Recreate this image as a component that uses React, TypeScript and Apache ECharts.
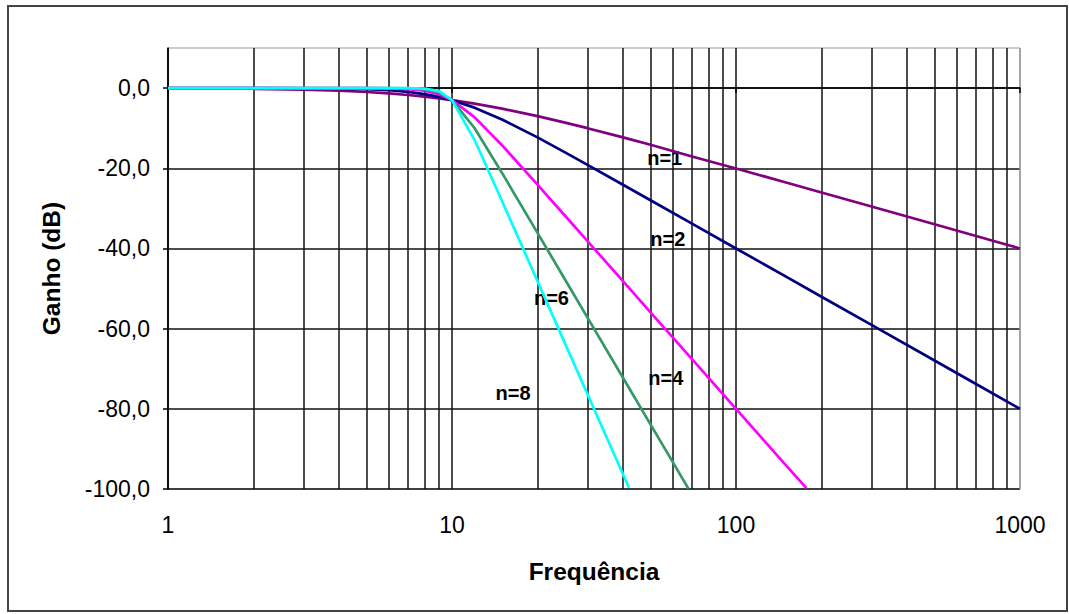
import React, { useEffect, useRef } from "react";
import * as echarts from "echarts";

// Frequencies (Hz, log axis) and gains (dB)
const freqFull = [1, 2, 3, 4, 5, 6, 7, 8, 9, 10, 12, 15, 20, 25, 30, 40, 50, 70, 100, 150, 200, 300, 500, 700, 1000];
const gainN1 = [-0.04, -0.17, -0.37, -0.64, -0.97, -1.34, -1.73, -2.15, -2.58, -3.01, -3.87, -5.12, -6.99, -8.6, -10.0, -12.3, -14.15, -17.08, -20.04, -23.56, -26.03, -29.55, -33.98, -36.9, -40.0];
const gainN2 = [0, -0.01, -0.04, -0.11, -0.26, -0.53, -0.93, -1.49, -2.19, -3.01, -4.88, -7.83, -12.3, -16.03, -19.14, -24.1, -27.97, -33.81, -40.0, -47.04, -52.04, -59.08, -67.96, -73.8, -80.0];

const freqN4 = [1, 2, 3, 4, 5, 6, 7, 8, 9, 10, 12, 15, 20, 25, 30, 40, 50, 70, 100, 150, 177];
const gainN4 = [0, 0, 0, 0, -0.02, -0.07, -0.24, -0.67, -1.56, -3.01, -7.24, -14.25, -24.1, -31.84, -38.17, -48.17, -55.92, -67.61, -80.0, -94.09, -99.8];

const freqN6 = [1, 2, 3, 4, 5, 6, 7, 8, 9, 10, 12, 15, 20, 25, 30, 40, 50, 68];
const gainN6 = [0, 0, 0, 0, 0, -0.01, -0.06, -0.29, -1.08, -3.01, -9.96, -21.16, -36.12, -47.75, -57.25, -72.25, -83.88, -99.9];

const freqN8 = [1, 2, 3, 4, 5, 6, 7, 8, 9, 10, 12, 15, 20, 25, 30, 40, 42];
const gainN8 = [0, 0, 0, 0, 0, 0, -0.01, -0.12, -0.74, -3.01, -12.9, -28.18, -48.16, -63.67, -76.34, -96.33, -99.7];

// Curve labels: [name, frequency, gain]
const curveLabels: [string, number, number][] = [
  ["n=1", 56.1, -17.4],
  ["n=2", 57.5, -37.7],
  ["n=4", 56.6, -72.3],
  ["n=6", 22.4, -52.3],
  ["n=8", 16.4, -76.05],
];

const yTicks = [-100, -80, -60, -40, -20, 0];
const xTicks = [1, 10, 100, 1000];
const minorGrid = [2, 3, 4, 5, 6, 7, 8, 9, 20, 30, 40, 50, 60, 70, 80, 90, 200, 300, 400, 500, 600, 700, 800, 900];

const FONT = "'Liberation Sans', Arial, sans-serif";
const GRID_COLOR = "#111";
const GRID_W = 1.5;

function pairs(xs: number[], ys: number[]) {
  return xs.map((x, i) => [x, ys[i]]);
}

export default function App() {
  const ref = useRef<HTMLDivElement>(null);
  useEffect(() => {
    if (!ref.current) return;
    const chart = echarts.init(ref.current, null, { renderer: "svg" });
    const curve = (name: string, xs: number[], ys: number[], color: string) => ({
      name,
      type: "line",
      z: 10,
      data: pairs(xs, ys),
      showSymbol: false,
      symbol: "none",
      smooth: false,
      silent: true,
      lineStyle: { color, width: 2.7 },
      itemStyle: { color },
    });
    chart.setOption({
      animation: false,
      backgroundColor: "#fff",
      textStyle: { fontFamily: FONT },
      grid: {
        left: 168,
        top: 48,
        right: 49,
        bottom: 125,
        show: true,
        borderColor: "#999",
        borderWidth: 1,
        backgroundColor: "transparent",
      },
      graphic: [
        {
          type: "rect",
          shape: { x: 8, y: 6, width: 1059, height: 605 },
          style: { fill: "none", stroke: "#444", lineWidth: 2 },
          silent: true,
          z: -1,
        },
      ],
      xAxis: {
        type: "log",
        logBase: 10,
        min: 1,
        max: 1000,
        name: "Frequência",
        nameLocation: "middle",
        nameGap: 70,
        nameTextStyle: { fontFamily: FONT, fontSize: 24.5, fontWeight: "bold", color: "#000" },
        axisLine: { show: true, lineStyle: { color: "#000", width: GRID_W } },
        axisTick: { show: true, length: 5, lineStyle: { color: "#000", width: GRID_W }, customValues: xTicks },
        axisLabel: {
          customValues: xTicks,
          margin: 24,
          fontFamily: FONT,
          fontSize: 23,
          color: "#000",
          formatter: (v: number) => String(Math.round(v)),
        },
        splitLine: { show: true, lineStyle: { color: [GRID_COLOR, GRID_COLOR, GRID_COLOR, "#999"], width: GRID_W } },
        minorTick: { show: false },
        minorSplitLine: { show: false },
      },
      yAxis: {
        type: "value",
        min: -100,
        max: 10,
        interval: 20,
        name: "Ganho (dB)",
        nameLocation: "middle",
        nameGap: 104,
        nameRotate: 90,
        nameTextStyle: { fontFamily: FONT, fontSize: 24.5, fontWeight: "bold", color: "#000" },
        axisLine: { show: true, lineStyle: { color: "#000", width: GRID_W } },
        axisTick: { show: true, length: 5, lineStyle: { color: "#000", width: GRID_W }, customValues: yTicks },
        axisLabel: {
          customValues: yTicks,
          margin: 18,
          fontFamily: FONT,
          fontSize: 23,
          color: "#000",
          formatter: (v: number) => v.toFixed(1).replace(".", ","),
        },
        splitLine: {
          show: true,
          lineStyle: {
            color: [GRID_COLOR, GRID_COLOR, GRID_COLOR, GRID_COLOR, GRID_COLOR, GRID_COLOR, "#999"],
            width: GRID_W,
          },
        },
      },
      series: [
        {
          name: "grid",
          type: "line",
          data: [],
          silent: true,
          markLine: {
            silent: true,
            symbol: ["none", "none"],
            label: { show: false },
            emphasis: { disabled: true },
            lineStyle: { color: GRID_COLOR, width: GRID_W, type: "solid" },
            data: minorGrid.map((v) => ({ xAxis: v })),
          },
        },
        curve("n=1", freqFull, gainN1, "#800080"),
        curve("n=2", freqFull, gainN2, "#000080"),
        curve("n=4", freqN4, gainN4, "#FF00FF"),
        curve("n=6", freqN6, gainN6, "#339966"),
        curve("n=8", freqN8, gainN8, "#00FFFF"),
        {
          name: "labels",
          type: "line",
          data: [],
          z: 12,
          silent: true,
          markPoint: {
            silent: true,
            symbol: "rect",
            symbolSize: 1,
            itemStyle: { color: "rgba(0,0,0,0)" },
            label: {
              show: true,
              position: "inside",
              fontFamily: FONT,
              fontSize: 20,
              fontWeight: "bold",
              color: "#000",
              formatter: (p: any) => p.name,
            },
            data: curveLabels.map(([n, f, g]) => ({ name: n, coord: [f, g] })),
          },
        },
      ],
    });
    return () => chart.dispose();
  }, []);
  return (
    <div
      ref={ref}
      style={{ position: "absolute", left: 0, top: 0, width: 1069, height: 614, background: "#fff" }}
    />
  );
}
